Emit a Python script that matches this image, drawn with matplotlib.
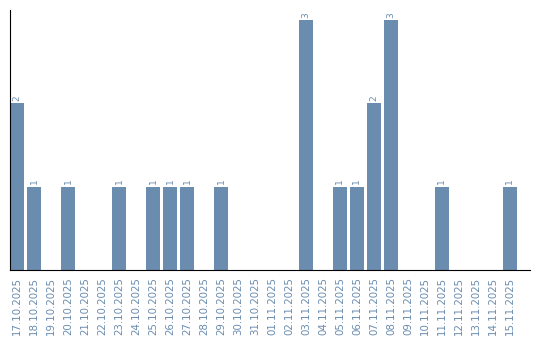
import matplotlib
matplotlib.use("Agg")
import matplotlib.pyplot as plt

dates = ["17.10.2025", "18.10.2025", "19.10.2025", "20.10.2025", "21.10.2025",
         "22.10.2025", "23.10.2025", "24.10.2025", "25.10.2025", "26.10.2025",
         "27.10.2025", "28.10.2025", "29.10.2025", "30.10.2025", "31.10.2025",
         "01.11.2025", "02.11.2025", "03.11.2025", "04.11.2025", "05.11.2025",
         "06.11.2025", "07.11.2025", "08.11.2025", "09.11.2025", "10.11.2025",
         "11.11.2025", "12.11.2025", "13.11.2025", "14.11.2025", "15.11.2025"]
counts = [2, 1, 0, 1, 0, 0, 1, 0, 1, 1, 1, 0, 1, 0, 0,
          0, 0, 3, 0, 1, 1, 2, 3, 0, 0, 1, 0, 0, 0, 1]

color = "#6a8caf"
fig = plt.figure(figsize=(5.4, 3.4), dpi=100)
ax = fig.add_axes([10/540, 70/340, 520/540, 260/340])
x = list(range(len(dates)))
bars = ax.bar(x, counts, width=0.82, color=color)
for xi, v in zip(x, counts):
    if v > 0:
        ax.text(xi, v + 0.03, str(v), rotation=90, ha="center", va="bottom",
                color=color, fontsize=6.5)
ax.set_xlim(-0.41, 30.18)
ax.set_ylim(0, 3.12)
ax.set_xticks(x)
ax.set_xticklabels(dates, rotation=90, fontsize=7.4, color=color)
ax.tick_params(axis="x", length=0, pad=5)
ax.set_yticks([])
ax.spines["top"].set_visible(False)
ax.spines["right"].set_visible(False)
ax.spines["left"].set_color("black")
ax.spines["bottom"].set_color("black")
fig.savefig("out.png", dpi=100)
